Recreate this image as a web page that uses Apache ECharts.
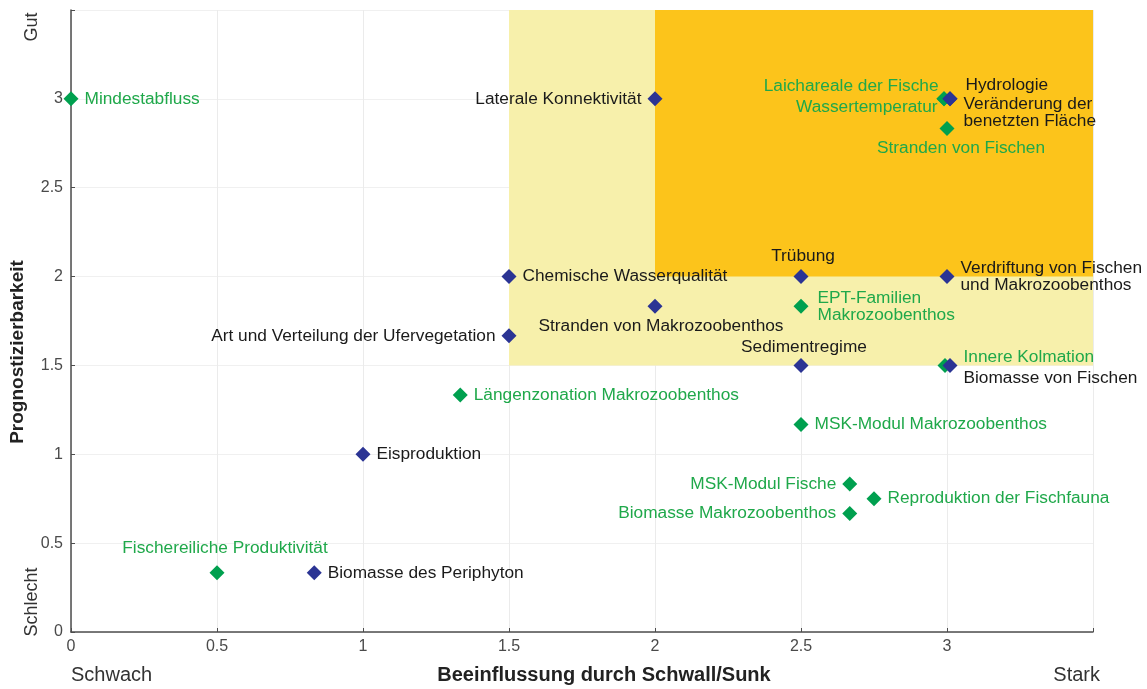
<!DOCTYPE html>
<html>
<head>
<meta charset="utf-8">
<script src="https://cdn.jsdelivr.net/npm/echarts@6/dist/echarts.min.js"></script>
<style>
  html, body { margin: 0; padding: 0; background: #fff; }
  #chart { width: 1147px; height: 689px; }
</style>
</head>
<body>
<div id="chart"></div>
<script>
// Achsen
var axisMin = 0;
var axisMax = 3.5;
var axisStep = 0.5;

// Zonen [x0, y0, x1, y1]
var zoneLight = [1.5, 1.5, 3.5, 3.5];
var zoneStrong = [2, 2, 3.5, 3.5];

// blaue Punkte (Indikatoren)
var blueNames = [
  'Laterale Konnektivität',
  'Hydrologie',
  'Veränderung der\nbenetzten Fläche',
  'Chemische Wasserqualität',
  'Trübung',
  'Verdriftung von Fischen\nund Makrozoobenthos',
  'Stranden von Makrozoobenthos',
  'Art und Verteilung der Ufervegetation',
  'Sedimentregime',
  'Biomasse von Fischen',
  'Eisproduktion',
  'Biomasse des Periphyton'
];
var blueX = [2, 3, 3, 1.5, 2.5, 3, 2, 1.5, 2.5, 3, 1, 0.833];
var blueY = [3, 3, 3, 2, 2, 2, 1.833, 1.667, 1.5, 1.5, 1, 0.333];

// grüne Punkte
var greenNames = [
  'Mindestabfluss',
  'Laichareale der Fische',
  'Wassertemperatur',
  'Stranden von Fischen',
  'EPT-Familien\nMakrozoobenthos',
  'Innere Kolmation',
  'Längenzonation Makrozoobenthos',
  'MSK-Modul Makrozoobenthos',
  'MSK-Modul Fische',
  'Reproduktion der Fischfauna',
  'Biomasse Makrozoobenthos',
  'Fischereiliche Produktivität'
];
var greenX = [0, 3, 3, 3, 2.5, 3, 1.333, 2.5, 2.667, 2.75, 2.667, 0.5];
var greenY = [3, 3, 3, 2.833, 1.833, 1.5, 1.333, 1.167, 0.833, 0.75, 0.667, 0.333];

// Beschriftung: [position, dx, dy, symbolOffsetX]
var labelPlace = {
  'Laterale Konnektivität': ['left', 0, 0, 0],
  'Hydrologie': ['right', 2, -14, 3],
  'Veränderung der\nbenetzten Fläche': ['right', 0, 14, 3],
  'Chemische Wasserqualität': ['right', 0, 0, 0],
  'Trübung': ['top', 2, 2, 0],
  'Stranden von Makrozoobenthos': ['bottom', 6, -2, 0],
  'Art und Verteilung der Ufervegetation': ['left', 0, 0, 0],
  'Sedimentregime': ['top', 3, 4, 0],
  'Biomasse von Fischen': ['right', 0, 13, 3],
  'Laichareale der Fische': ['left', 8, -13, -3],
  'Wassertemperatur': ['left', 7, 8, -3],
  'Stranden von Fischen': ['bottom', 14, -2, 0],
  'Innere Kolmation': ['right', 5, -8, -2],
  'EPT-Familien\nMakrozoobenthos': ['right', 3, 0, 0],
  'MSK-Modul Fische': ['left', 0, 0, 0],
  'Biomasse Makrozoobenthos': ['left', 0, 0, 0],
  'Fischereiliche Produktivität': ['top', 8, -3, 0]
};

function buildItems(names, xs, ys) {
  return names.map(function (n, i) {
    var p = labelPlace[n] || ['right', 0, 0, 0];
    return {
      name: n,
      value: [xs[i], ys[i]],
      symbolOffset: [p[3], 0],
      label: { position: p[0], offset: [p[1], p[2]] }
    };
  });
}

var chartDom = document.getElementById('chart');
var myChart = echarts.init(chartDom);
var option;

var labelFont = 'Liberation Sans, Arial, sans-serif';

option = {
  animation: false,
  grid: { left: 71, right: 54, top: 10, bottom: 57 },
  xAxis: {
    type: 'value',
    min: axisMin,
    max: axisMax,
    interval: axisStep,
    axisLine: { lineStyle: { color: '#4d4d4d', width: 1.5 } },
    axisTick: { show: true, inside: true, length: 4, lineStyle: { color: '#4d4d4d' } },
    axisLabel: {
      color: '#4a4a4a', fontSize: 16, fontFamily: labelFont, margin: 7,
      formatter: function (v) { return v >= axisMax ? '' : String(v); }
    },
    splitLine: { show: true, lineStyle: { color: '#ebebeb' } }
  },
  yAxis: {
    type: 'value',
    min: axisMin,
    max: axisMax,
    interval: axisStep,
    axisLine: { show: true, lineStyle: { color: '#4d4d4d', width: 1.5 } },
    axisTick: { show: true, inside: true, length: 4, lineStyle: { color: '#4d4d4d' } },
    axisLabel: {
      color: '#4a4a4a', fontSize: 16, fontFamily: labelFont, margin: 8,
      formatter: function (v) { return v >= axisMax ? '' : String(v); }
    },
    splitLine: { show: true, lineStyle: { color: '#f0f0f0' } }
  },
  series: [
    {
      type: 'scatter',
      data: [],
      silent: true,
      z: 1,
      markArea: {
        silent: true,
        data: [
          [
            { coord: [zoneLight[0], zoneLight[1]], itemStyle: { color: '#f7f0ab', opacity: 1 } },
            { coord: [zoneLight[2], zoneLight[3]] }
          ],
          [
            { coord: [zoneStrong[0], zoneStrong[1]], itemStyle: { color: '#fcc41b', opacity: 1 } },
            { coord: [zoneStrong[2], zoneStrong[3]] }
          ]
        ]
      }
    },
    {
      name: 'grün',
      type: 'scatter',
      symbol: 'diamond',
      symbolSize: 15,
      z: 3,
      itemStyle: { color: '#00a04f', opacity: 1 },
      label: {
        show: true,
        formatter: '{b}',
        distance: 6,
        color: '#1fa84a',
        fontSize: 17.3,
        lineHeight: 17,
        fontFamily: labelFont
      },
      data: buildItems(greenNames, greenX, greenY)
    },
    {
      name: 'blau',
      type: 'scatter',
      symbol: 'diamond',
      symbolSize: 15,
      z: 4,
      itemStyle: { color: '#2b3494', opacity: 1 },
      label: {
        show: true,
        formatter: '{b}',
        distance: 6,
        color: '#1a1a1a',
        fontSize: 17.3,
        lineHeight: 17,
        fontFamily: labelFont
      },
      data: buildItems(blueNames, blueX, blueY)
    }
  ],
  graphic: [
    { type: 'text', x: 32, y: 27, rotation: Math.PI / 2,
      style: { text: 'Gut', fontSize: 18, fontFamily: labelFont, fill: '#333', align: 'center', verticalAlign: 'middle' } },
    { type: 'text', x: 32, y: 602, rotation: Math.PI / 2,
      style: { text: 'Schlecht', fontSize: 18, fontFamily: labelFont, fill: '#333', align: 'center', verticalAlign: 'middle' } },
    { type: 'text', x: 18, y: 352, rotation: Math.PI / 2,
      style: { text: 'Prognostizierbarkeit', fontSize: 19, fontWeight: 'bold', fontFamily: labelFont, fill: '#222', align: 'center', verticalAlign: 'middle' } },
    { type: 'text', x: 71, y: 675,
      style: { text: 'Schwach', fontSize: 20, fontFamily: labelFont, fill: '#333', align: 'left', verticalAlign: 'middle' } },
    { type: 'text', x: 604, y: 675,
      style: { text: 'Beeinflussung durch Schwall/Sunk', fontSize: 20, fontWeight: 'bold', fontFamily: labelFont, fill: '#222', align: 'center', verticalAlign: 'middle' } },
    { type: 'text', x: 1100, y: 675,
      style: { text: 'Stark', fontSize: 20, fontFamily: labelFont, fill: '#333', align: 'right', verticalAlign: 'middle' } }
  ]
};

option && myChart.setOption(option);
window.onresize = function () {
  myChart.resize();
};
</script>
</body>
</html>
